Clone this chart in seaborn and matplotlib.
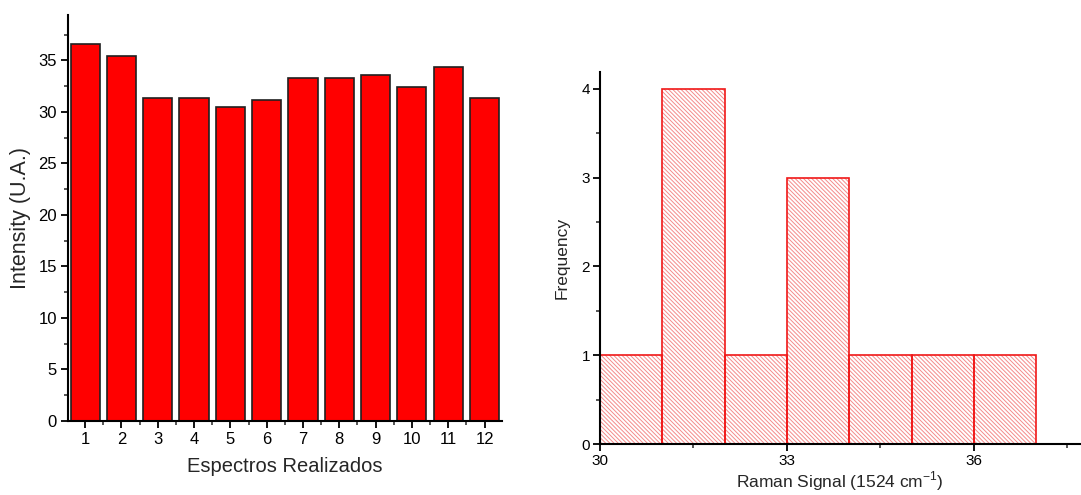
import matplotlib
matplotlib.use("Agg")
import matplotlib.pyplot as plt
import seaborn as sns
from matplotlib.ticker import MultipleLocator, FixedLocator

# Intensity of the 1524 cm-1 band for each recorded spectrum
spectra = list(range(1, 13))
intensity = [36.6, 35.45, 31.36, 31.36, 30.52, 31.13, 33.34, 33.34, 33.63, 32.42, 34.36, 31.36]
bin_edges = [30, 31, 32, 33, 34, 35, 36, 37]
hist_ticks = [30, 33, 36]

sns.set_theme(style="ticks")
plt.rcParams["font.family"] = ["Liberation Sans", "DejaVu Sans"]
plt.rcParams["mathtext.fontset"] = "custom"
plt.rcParams["mathtext.rm"] = "Liberation Sans"
plt.rcParams["hatch.linewidth"] = 0.7

fig = plt.figure(figsize=(10.81, 4.95), dpi=100)
ax1 = fig.add_axes([0.0629, 0.1495, 0.4015, 0.820])
ax2 = fig.add_axes([0.555, 0.103, 0.444, 0.7515])

# --- bar chart of intensities ---
sns.barplot(x=spectra, y=intensity, native_scale=True, width=0.8, color="#ff0000",
            saturation=1, edgecolor="#202020", linewidth=1.2, ax=ax1)
ax1.set_xlim(0.53, 12.48)
ax1.set_ylim(0, 39.4)
ax1.xaxis.set_major_locator(FixedLocator(spectra))
ax1.set_xticklabels([str(s) for s in spectra])
ax1.xaxis.set_minor_locator(MultipleLocator(1, offset=0.5))
ax1.yaxis.set_major_locator(MultipleLocator(5))
ax1.yaxis.set_minor_locator(MultipleLocator(2.5))
ax1.set_xlabel("Espectros Realizados", fontsize=14.5, labelpad=7)
ax1.set_ylabel("Intensity (U.A.)", fontsize=15.5, labelpad=5)
ax1.tick_params(axis="both", which="major", direction="out", length=5, width=1.3,
                labelsize=12, colors="black", pad=3)
ax1.tick_params(axis="both", which="minor", direction="out", length=3, width=1.1)
for s in ("top", "right"):
    ax1.spines[s].set_visible(False)
for s in ("left", "bottom"):
    ax1.spines[s].set_linewidth(1.5)
    ax1.spines[s].set_color("black")

# --- histogram of intensities: light hatching, then red outlines ---
hatch_color = "#f48a8a"
sns.histplot(x=intensity, bins=bin_edges, fill=True, facecolor="none",
             edgecolor=hatch_color, hatch="\\" * 8, linewidth=0, ax=ax2)
for p in ax2.patches:
    p.set_edgecolor(hatch_color)
    p.set_linewidth(0)
sns.histplot(x=intensity, bins=bin_edges, fill=False, color="#f01818",
             linewidth=1.2, ax=ax2)
ax2.set_xlim(30, 37.7)
ax2.set_ylim(0, 4.19)
ax2.xaxis.set_major_locator(FixedLocator(hist_ticks))
ax2.xaxis.set_minor_locator(MultipleLocator(3, offset=1.5))
ax2.yaxis.set_major_locator(MultipleLocator(1))
ax2.yaxis.set_minor_locator(MultipleLocator(0.5))
ax2.set_xlabel(r"Raman Signal (1524 cm$^{\mathregular{-1}}$)", fontsize=12.5, labelpad=1)
ax2.set_ylabel("Frequency", fontsize=12.5, labelpad=9)
ax2.tick_params(axis="both", which="major", direction="out", length=5, width=1.3,
                labelsize=11, colors="black", pad=2)
ax2.tick_params(axis="both", which="minor", direction="out", length=3, width=1.1)
for s in ("top", "right"):
    ax2.spines[s].set_visible(False)
for s in ("left", "bottom"):
    ax2.spines[s].set_linewidth(1.5)
    ax2.spines[s].set_color("black")

fig.savefig("out.png", dpi=100, facecolor="white")
